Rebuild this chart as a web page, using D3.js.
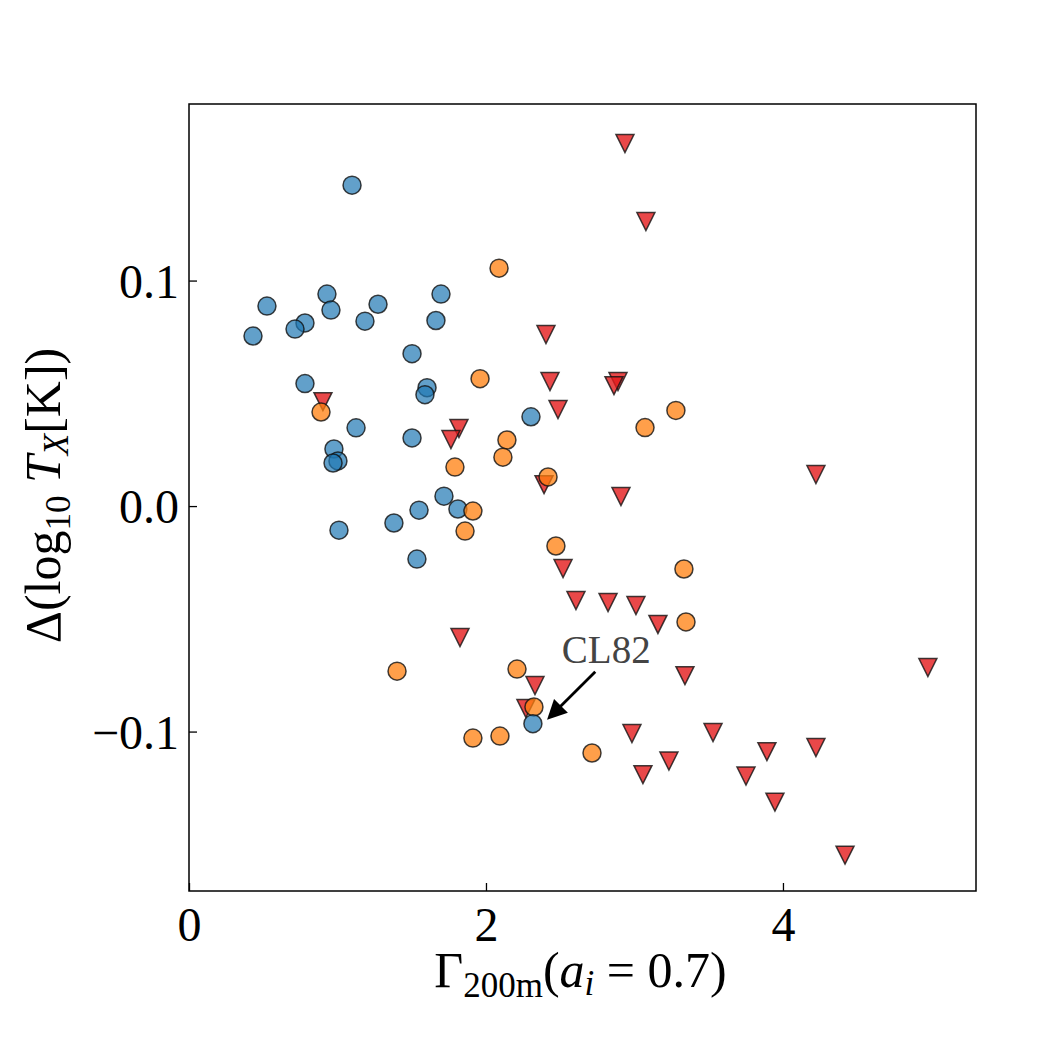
<!DOCTYPE html>
<html>
<head>
<meta charset="utf-8">
<script src="https://cdn.jsdelivr.net/npm/d3@7"></script>
<style>
  body { margin: 0; background: #fff; }
  text { font-family: "Liberation Serif", "DejaVu Serif", serif; }
</style>
</head>
<body>
<div id="chart"></div>
<script>
// data
const blueX = [1.098, 0.525, 0.431, 0.781, 0.714, 0.929, 0.956, 1.185, 1.273, 1.697, 1.663, 1.502, 0.781, 1.603, 1.589, 2.303, 1.125, 1.502, 0.976, 1.003, 0.970, 1.717, 1.549, 1.811, 1.010, 1.380, 1.535];
const blueY = [0.1423, 0.0887, 0.0754, 0.0812, 0.0785, 0.0940, 0.0869, 0.0820, 0.0895, 0.0940, 0.0823, 0.0676, 0.0543, 0.0525, 0.0494, 0.0396, 0.0347, 0.0302, 0.0253, 0.0200, 0.0191, 0.0044, -0.0018, -0.0013, -0.0107, -0.0075, -0.0235];

const orangeX = [2.088, 1.960, 0.889, 2.141, 2.114, 1.791, 2.418, 1.912, 1.859, 2.471, 3.333, 3.347, 1.401, 2.209, 2.323, 1.912, 2.094, 2.714, 3.279, 3.071];
const orangeY = [0.1055, 0.0565, 0.0417, 0.0293, 0.0217, 0.0173, 0.0129, -0.0022, -0.0111, -0.0177, -0.0279, -0.0514, -0.0732, -0.0723, -0.0891, -0.1029, -0.1020, -0.1095, 0.0424, 0.0348];

const redX = [2.936, 3.077, 2.404, 2.431, 2.889, 2.862, 0.902, 1.818, 1.764, 2.485, 2.391, 2.909, 4.222, 2.519, 2.606, 2.822, 3.010, 3.158, 1.825, 3.340, 4.976, 2.330, 2.269, 2.983, 3.529, 3.892, 4.222, 3.057, 3.232, 3.751, 3.946, 4.418];
const redY = [0.1608, 0.1262, 0.0761, 0.0552, 0.0552, 0.0534, 0.0463, 0.0344, 0.0295, 0.0428, 0.0095, 0.0042, 0.0140, -0.0277, -0.0419, -0.0428, -0.0441, -0.0525, -0.0583, -0.0752, -0.0716, -0.0796, -0.0898, -0.1009, -0.1004, -0.1089, -0.1071, -0.1191, -0.1131, -0.1197, -0.1313, -0.1548];

// highlighted cluster
const cl82 = { name: "CL82", x: 2.316, y: -0.0965, textX: 2.81, textY: -0.0695, tipX: 2.43, tipY: -0.0935 };

const xTicks = [0, 2, 4];
const yTicks = [-0.1, 0.0, 0.1];

const svgWidth = 1050, svgHeight = 1050;
const margin = { top: 104, right: 74, bottom: 159, left: 189 };
const width = svgWidth - margin.left - margin.right;
const height = svgHeight - margin.top - margin.bottom;

const XScale = d3.scaleLinear([0, 5.30], [0, width]);
const YScale = d3.scaleLinear([-0.1707, 0.1783], [height, 0]);

const svg = d3.select("#chart").append("svg")
  .attr("width", svgWidth)
  .attr("height", svgHeight);

const g = svg.append("g")
  .attr("transform", `translate(${margin.left},${margin.top})`);

const markerR = 9;
const triPath = s => `M${-s},${-s}L${s},${-s}L0,${s}Z`;

// blue circles
g.selectAll(".blue")
  .data(d3.zip(blueX, blueY))
  .enter().append("circle")
  .attr("class", "blue")
  .attr("cx", d => XScale(d[0]))
  .attr("cy", d => YScale(d[1]))
  .attr("r", markerR)
  .attr("fill", "#1f77b4").attr("fill-opacity", 0.7)
  .attr("stroke", "#111").attr("stroke-opacity", 0.8).attr("stroke-width", 1.5);

// red triangles
g.selectAll(".red")
  .data(d3.zip(redX, redY))
  .enter().append("path")
  .attr("class", "red")
  .attr("transform", d => `translate(${XScale(d[0])},${YScale(d[1])})`)
  .attr("d", triPath(9))
  .attr("fill", "#e31a1c").attr("fill-opacity", 0.8)
  .attr("stroke", "#111").attr("stroke-opacity", 0.8).attr("stroke-width", 1.5)
  .attr("stroke-linejoin", "miter");

// orange circles
g.selectAll(".orange")
  .data(d3.zip(orangeX, orangeY))
  .enter().append("circle")
  .attr("class", "orange")
  .attr("cx", d => XScale(d[0]))
  .attr("cy", d => YScale(d[1]))
  .attr("r", markerR)
  .attr("fill", "#ff7f0e").attr("fill-opacity", 0.75)
  .attr("stroke", "#111").attr("stroke-opacity", 0.8).attr("stroke-width", 1.5);

// CL82 point on top
g.append("circle")
  .attr("cx", XScale(cl82.x))
  .attr("cy", YScale(cl82.y))
  .attr("r", markerR)
  .attr("fill", "#1f77b4").attr("fill-opacity", 0.7)
  .attr("stroke", "#111").attr("stroke-opacity", 0.8).attr("stroke-width", 1.5);

// annotation
svg.append("defs").append("marker")
  .attr("id", "head")
  .attr("viewBox", "0 0 10 10")
  .attr("refX", 8).attr("refY", 5)
  .attr("markerWidth", 8).attr("markerHeight", 7)
  .attr("markerUnits", "strokeWidth")
  .attr("orient", "auto")
  .append("path")
  .attr("d", "M0,0L10,5L0,10Z")
  .attr("fill", "#000");

const ax0 = XScale(cl82.textX) - 11, ay0 = YScale(cl82.textY) + 9;
g.append("line")
  .attr("x1", ax0).attr("y1", ay0)
  .attr("x2", XScale(cl82.tipX)).attr("y2", YScale(cl82.tipY))
  .attr("stroke", "#000").attr("stroke-width", 2.8)
  .attr("marker-end", "url(#head)");

g.append("text")
  .attr("x", XScale(cl82.textX))
  .attr("y", YScale(cl82.textY))
  .attr("text-anchor", "middle")
  .style("font-size", "39px")
  .style("fill", "#444")
  .text(cl82.name);

// frame
g.append("rect")
  .attr("width", width).attr("height", height)
  .attr("fill", "none").attr("stroke", "#000").attr("stroke-width", 1.5);

// axes with inward ticks
const XAxis = d3.axisBottom(XScale).tickValues(xTicks).tickSize(-8).tickPadding(16)
  .tickFormat(d3.format("d"));
const YAxis = d3.axisLeft(YScale).tickValues(yTicks).tickSize(-8).tickPadding(10)
  .tickFormat(d => d3.format(".1f")(d).replace("-", "\u2212"));

g.append("g")
  .attr("transform", `translate(0,${height})`)
  .call(XAxis)
  .call(a => a.select(".domain").remove())
  .call(a => a.selectAll("line").attr("stroke", "#000").attr("stroke-width", 1.3))
  .selectAll("text")
  .attr("dy", "0.71em")
  .style("font-size", "48px")
  .style("font-family", "Liberation Serif")
  .style("fill", "#000");

g.append("g")
  .call(YAxis)
  .call(a => a.select(".domain").remove())
  .call(a => a.selectAll("line").attr("stroke", "#000").attr("stroke-width", 1.3))
  .selectAll("text")
  .attr("dy", "0.35em")
  .style("font-size", "48px")
  .style("font-family", "Liberation Serif")
  .style("fill", "#000");

// x label
const xl = svg.append("text")
  .attr("x", margin.left + width / 2 - 2)
  .attr("y", 987)
  .attr("text-anchor", "middle")
  .style("font-size", "50px");
xl.append("tspan").text("\u0393");
xl.append("tspan").attr("dy", 10).style("font-size", "35px").text("200m");
xl.append("tspan").attr("dy", -10).text("(");
xl.append("tspan").style("font-style", "italic").text("a");
xl.append("tspan").attr("dy", 8).style("font-size", "35px").style("font-style", "italic").text("i");
xl.append("tspan").attr("dy", -8).text(" = 0.7)");

// y label
const yl = svg.append("text")
  .attr("transform", `translate(60,${margin.top + height / 2 - 2}) rotate(-90)`)
  .attr("text-anchor", "middle")
  .style("font-size", "50px");
yl.append("tspan").text("\u0394(log");
yl.append("tspan").attr("dy", 10).style("font-size", "35px").text("10");
yl.append("tspan").attr("dy", -10).text(" ");
yl.append("tspan").style("font-style", "italic").text("T");
yl.append("tspan").attr("dy", 8).style("font-size", "35px").style("font-style", "italic").text("X");
yl.append("tspan").attr("dy", -8).text("[K])");
</script>
</body>
</html>
